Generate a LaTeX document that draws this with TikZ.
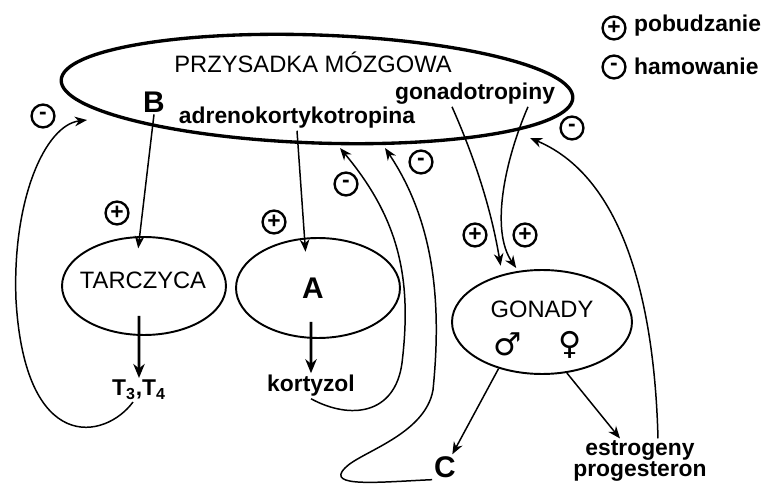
\documentclass[tikz,border=0pt]{standalone}
\usepackage{fontspec}
\setmainfont{Liberation Sans}
\newfontfamily\symfont{DejaVu Sans}
\usetikzlibrary{shapes.geometric,arrows.meta}

\begin{document}
\begin{tikzpicture}[x=0.02cm,y=-0.02cm,
  gland/.style={draw,ellipse,line width=1.1pt,inner sep=0pt},
  sgn/.style={draw,circle,line width=1.35pt,minimum size=13pt,inner sep=0pt,
    font=\fontsize{13}{13}\selectfont\bfseries},
  lbl/.style={font=\fontsize{13}{12}\selectfont\bfseries,inner sep=1pt},
  nm/.style={font=\fontsize{13.5}{15}\selectfont,inner sep=1pt},
  big/.style={font=\fontsize{17}{18}\selectfont\bfseries,inner sep=1pt},
  sex/.style={font=\symfont\fontsize{18}{18}\selectfont,inner sep=0pt},
  thinarr/.style={-{Stealth[length=7pt,width=5.5pt]},line width=0.85pt},
  thickarr/.style={-{Stealth[length=8pt,width=6.5pt]},line width=1.7pt}]
  \useasboundingbox (0,0) rectangle (765,486);
  % x,y in pixels of the 765x486 sheet, y running down

  % pituitary
  \node[gland,line width=1.9pt,minimum width=10.24cm,minimum height=2.16cm,
    rotate=-2] (pit) at (317,89) {};
  \node[nm] (pitname) at (313,62) {PRZYSADKA MÓZGOWA};
  \node[big] (B) at (154,102) {B};
  \node[lbl] (acth) at (297,118) {adrenokortykotropina};
  \node[lbl] (gtr) at (475,94) {gonadotropiny};

  % target glands
  \node[gland,minimum width=3.28cm,minimum height=1.96cm] (tar) at (144,286) {};
  \node[nm] (tarname) at (143,280) {TARCZYCA};
  \node[gland,minimum width=3.28cm,minimum height=2cm] (nad) at (318,288) {};
  \node[big] (A) at (313,288) {A};
  \node[gland,minimum width=3.6cm,minimum height=2.08cm] (gon) at (542,322) {};
  \node[nm] (gonname) at (542,309) {GONADY};
  \node[sex] (male) at (508,344) {♂};
  \node[sex] (female) at (570,345) {♀};

  % hormones
  \node[lbl] (t34) at (139,390) {T\textsubscript{3},T\textsubscript{4}};
  \node[lbl] (kort) at (311,386) {kortyzol};
  \node[big] (C) at (445,467) {C};
  \node[lbl,align=center] (estr) at (640,461) {estrogeny\\progesteron};

  % legend
  \node[sgn] (lp) at (614,28) {+};
  \node[lbl,anchor=base west] (lpt) at (632,32) {pobudzanie};
  \node[sgn] (lm) at (614,67) {-};
  \node[lbl,anchor=base west] (lmt) at (632,75) {hamowanie};

  % signs on the arrows
  \foreach \n/\x/\y/\s in {sT/43/116/-, sB/117/213/+, sA/274/222/+, sK/346/184/-,
    sC/421/162/-, sG1/475/235/+, sG2/525/235/+, sE/572/128/-}
    \node[sgn] (\n) at (\x,\y) {\s};

  % ends of the feedback arrows under the pituitary
  \coordinate (inT) at (87,120);
  \coordinate (inK) at (340,148);
  \coordinate (inC) at (385,148);
  \coordinate (inE) at (530,138);

  % stimulation
  \draw[thinarr,shorten >=-7pt] (B.south) -- (tar.95);
  \draw[thinarr,shorten >=-8pt] (acth.south) -- (nad.105);
  \draw[thinarr,shorten >=5pt] ([xshift=-0.46cm]gtr.south)
    .. controls (480,170) and (493,220) .. (gon.130);
  \draw[thinarr,shorten >=2pt] ([xshift=1.06cm]gtr.south)
    .. controls (505,160) and (490,230) .. (gon.115);

  % secretion
  \draw[thickarr] ([xshift=-0.1cm,yshift=0.4cm]tar.south) -- (t34.north);
  \draw[thickarr] ([xshift=-0.14cm,yshift=0.34cm]nad.south) -- (kort.north);
  \draw[thinarr] (gon.227) -- (C.60);
  \draw[thinarr] (gon.296) -- ([xshift=-0.4cm]estr.north);

  % feedback (inhibition)
  \draw[thinarr] ([xshift=-0.12cm]t34.south)
    .. controls (105,440) and (25,455) .. (16,300)
    .. controls (12,200) and (45,125) .. (inT);
  \draw[thinarr] (kort.south)
    .. controls (350,420) and (395,415) .. (402,363)
    .. controls (412,280) and (400,220) .. (inK);
  \draw[thinarr] (C.south west)
    .. controls (380,482) and (325,488) .. (345,468)
    .. controls (360,452) and (425,435) .. (433,390)
    .. controls (440,320) and (440,230) .. (inC);
  \draw[thinarr] ([xshift=0.36cm]estr.north)
    .. controls (655,320) and (630,180) .. (inE);
\end{tikzpicture}
\end{document}
